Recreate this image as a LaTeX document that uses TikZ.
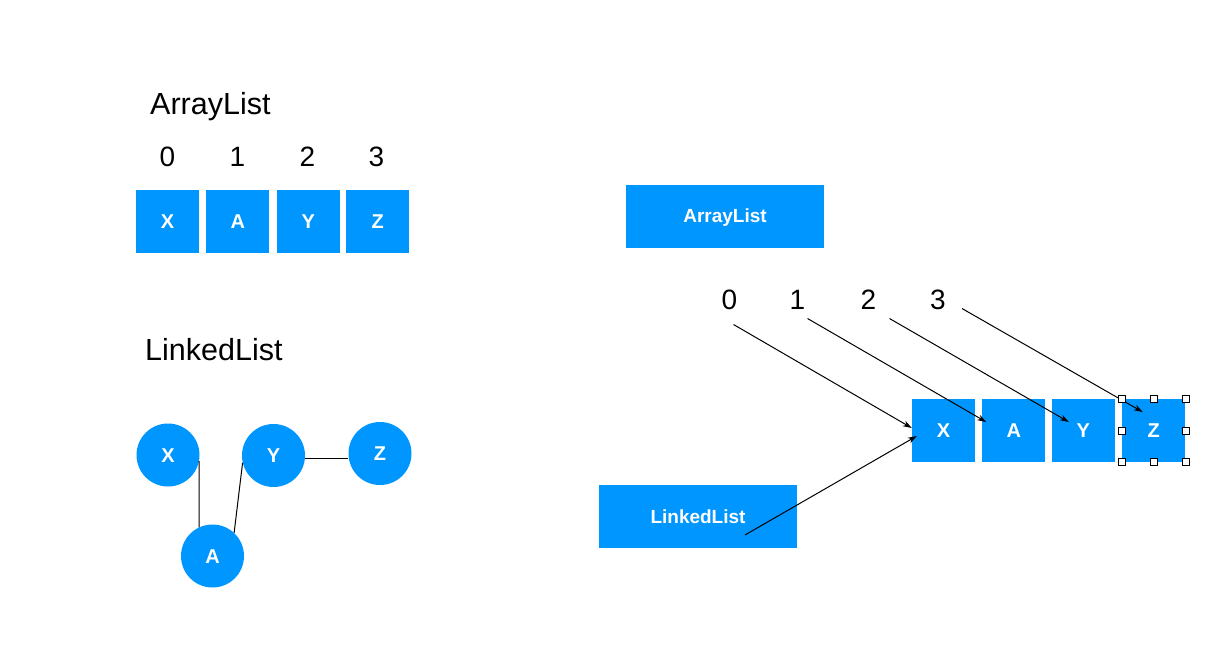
\documentclass[tikz,border=0pt]{standalone}
\usepackage{fontspec}
\setmainfont{Liberation Sans}
\usepackage{tikz}
\usetikzlibrary{shapes,arrows,arrows.meta,positioning,calc}
\usepackage{xcolor}
\definecolor{listblue}{RGB}{0,150,255}

\begin{document}
\begin{tikzpicture}[
    x=1pt, y=-1pt,
    cell/.style={rectangle, fill=listblue, text=white, font=\bfseries\fontsize{20}{24}\selectfont, text height=14.3pt, text depth=0pt, minimum width=63pt, minimum height=63pt, inner sep=0pt},
    bubble/.style={circle, fill=listblue, text=white, font=\bfseries\fontsize{20}{24}\selectfont, text height=14.3pt, text depth=0pt, minimum size=63pt, inner sep=0pt},
    bar/.style={rectangle, fill=listblue, text=white, font=\bfseries\fontsize{19}{22}\selectfont, text height=13.6pt, text depth=0pt, minimum width=198pt, minimum height=63pt, inner sep=0pt},
    title/.style={font=\fontsize{30.5}{36}\selectfont, inner sep=0pt},
    index/.style={font=\fontsize{28}{34}\selectfont, inner sep=0pt},
    handle/.style={rectangle, draw=black, fill=white, line width=0.8pt, minimum size=7pt, inner sep=0pt},
    link/.style={draw=black, line width=1pt},
    arrow/.style={->, >={Stealth[length=9pt,width=6pt]}, line width=1pt}
]
    \useasboundingbox (0,0) rectangle (1205,648);

    % left: array list
    \node[title, anchor=base west] (arrTitle) at (150,114) {ArrayList};
    \node[cell] (ax) at (167.5,221) {X};
    \node[cell, right=7pt of ax] (aa) {A};
    \node[cell, right=7pt of aa] (ay) {Y};
    \node[cell, right=6pt of ay] (az) {Z};
    \node[index] (i0) at (167.5,157) {0};
    \node[index] (i1) at (237.5,157) {1};
    \node[index] (i2) at (307.5,157) {2};
    \node[index] (i3) at (376.5,157) {3};

    % left: linked list
    \node[title, anchor=base west] (linkTitle) at (145,360) {LinkedList};
    \node[bubble] (lx) at (168,455) {X};
    \node[bubble] (la) at (212.5,556) {A};
    \node[bubble] (ly) at (273.5,455.5) {Y};
    \node[bubble] (lz) at (380,453.5) {Z};
    \draw[link] (lx.-11) -- (la.115);
    \draw[link] (la.47) -- (ly.193);
    \draw[link] (ly.-5) -- (ly.-5 -| lz.west);

    % right: both lists on one row
    \node[bar] (arrBox) at (725,216) {ArrayList};
    \node[bar] (linkBox) at (698,516.5) {LinkedList};
    \node[cell] (bx) at (943.5,430.5) {X};
    \node[cell, right=7pt of bx] (ba) {A};
    \node[cell, right=6pt of ba] (by) {Y};
    \node[cell, right=7pt of by] (bz) {Z};
    \node[index] (n0) at (729.5,299.5) {0};
    \node[index] (n1) at (797.5,299.5) {1};
    \node[index] (n2) at (868.5,299.5) {2};
    \node[index] (n3) at (938,299.5) {3};

    \draw[arrow] ([xshift=4pt,yshift=-25pt]n0.center) -- ([yshift=2.5pt]bx.west);
    \draw[arrow] ([xshift=10pt,yshift=-19pt]n1.center) -- ([xshift=4pt,yshift=8.5pt]ba.west);
    \draw[arrow] ([xshift=21pt,yshift=-19pt]n2.center) -- ([xshift=-14.5pt,yshift=8.5pt]by.center);
    \draw[arrow] ([xshift=24pt,yshift=-9pt]n3.center) -- ([xshift=-11pt,yshift=18.5pt]bz.center);
    \draw[arrow] ([xshift=47pt,yshift=-18.5pt]linkBox.center) -- ([xshift=5pt,yshift=-5.5pt]bx.west);

    % selection handles round Z
    \foreach \a in {north west, north, north east, west, east, south west, south, south east}
        \node[handle] at (bz.\a) {};
\end{tikzpicture}
\end{document}
